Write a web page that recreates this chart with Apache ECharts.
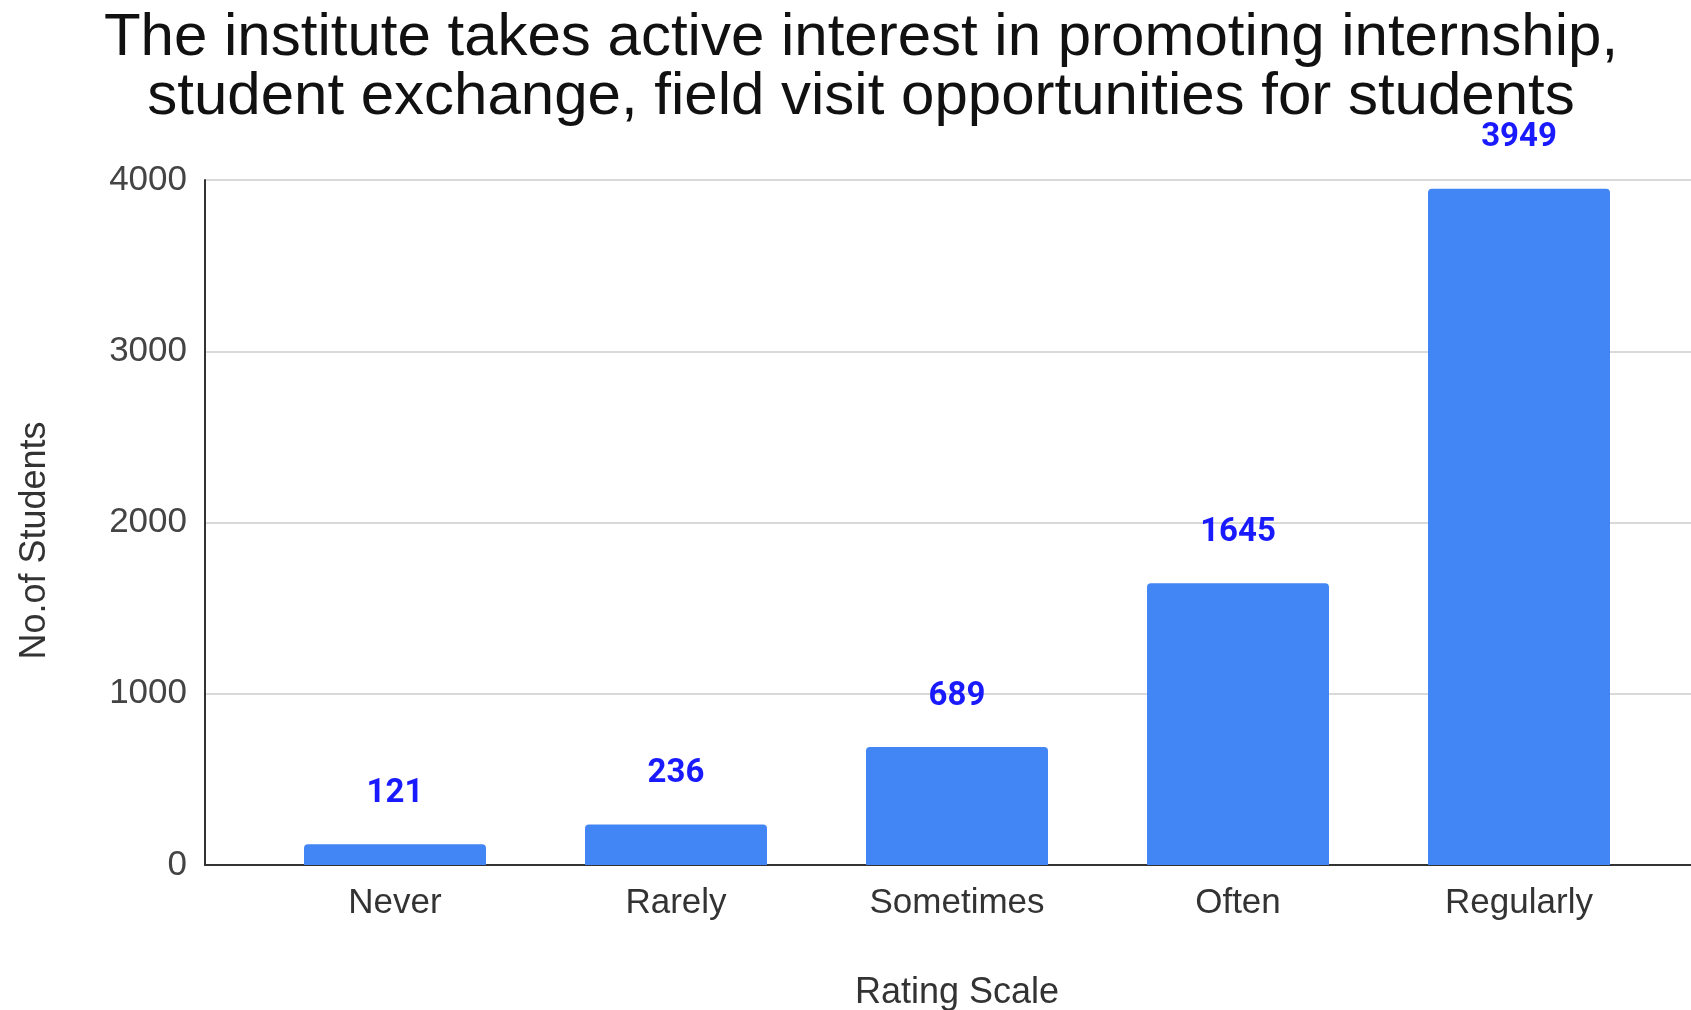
<!DOCTYPE html>
<html>
<head>
<meta charset="utf-8">
<script src="https://cdn.jsdelivr.net/npm/echarts@6/dist/echarts.min.js"></script>
<style>
html,body{margin:0;padding:0;background:#fff;}
#chart{width:1691px;height:1010px;}
</style>
</head>
<body>
<div id="chart"></div>
<script>
const titleText = 'The institute takes active interest in promoting internship,\nstudent exchange, field visit opportunities for students';
const categories = ['Never', 'Rarely', 'Sometimes', 'Often', 'Regularly'];
const values = [121, 236, 689, 1645, 3949];
const yTicks = [0, 1000, 2000, 3000, 4000];
const xAxisName = 'Rating Scale';
const yAxisName = 'No.of Students';

const yMin = yTicks[0], yMax = yTicks[yTicks.length - 1], yStep = yTicks[1] - yTicks[0];
const font = '"Liberation Sans", Arial, sans-serif';

const chart = echarts.init(document.getElementById('chart'));
chart.setOption({
  backgroundColor: '#ffffff',
  animation: false,
  title: {
    text: titleText,
    left: 861,
    top: 9,
    padding: 0,
    textAlign: 'center',
    textStyle: { fontFamily: font, fontSize: 60, fontWeight: 'normal', color: '#111', lineHeight: 59 }
  },
  grid: [
    { left: 205, right: 0, top: 180, bottom: 145, containLabel: false, outerBoundsMode: 'none' },
    { left: 254.5, right: 31.5, top: 180, bottom: 145, containLabel: false, outerBoundsMode: 'none' }
  ],
  xAxis: [
    {
      gridIndex: 0, type: 'category', data: categories,
      axisLine: { show: true, lineStyle: { color: '#333', width: 2 } },
      axisTick: { show: false }, axisLabel: { show: false }, splitLine: { show: false }
    },
    {
      gridIndex: 1, type: 'category', data: categories,
      axisLine: { show: false }, axisTick: { show: false },
      axisLabel: { margin: 21, fontFamily: font, fontSize: 35, color: '#333' },
      name: xAxisName, nameLocation: 'middle', nameGap: 110,
      nameTextStyle: { fontFamily: font, fontSize: 36, color: '#333' }
    }
  ],
  yAxis: [
    {
      gridIndex: 0, type: 'value', min: yMin, max: yMax, interval: yStep,
      axisLine: { show: true, lineStyle: { color: '#333', width: 2 } },
      axisTick: { show: false },
      axisLabel: { margin: 18, fontFamily: font, fontSize: 35, color: '#444', formatter: v => String(v) },
      splitLine: { show: true, lineStyle: { color: '#d9d9d9', width: 2 } },
      name: yAxisName, nameLocation: 'middle', nameGap: 152, nameRotate: 90,
      nameTextStyle: { fontFamily: font, fontSize: 36, color: '#333', padding: [0, 36, 0, 0] }
    },
    {
      gridIndex: 1, type: 'value', min: yMin, max: yMax, interval: yStep, show: false
    }
  ],
  series: [{
    type: 'bar',
    xAxisIndex: 1, yAxisIndex: 1,
    data: values,
    barWidth: 182,
    itemStyle: { color: '#4285f4', borderRadius: [4, 4, 0, 0] },
    label: {
      show: true, position: 'top', distance: 34,
      fontFamily: 'Roboto, "Noto Sans", sans-serif', fontWeight: 'bold', fontSize: 33, color: '#1a1aff'
    }
  }]
});
</script>
</body>
</html>
